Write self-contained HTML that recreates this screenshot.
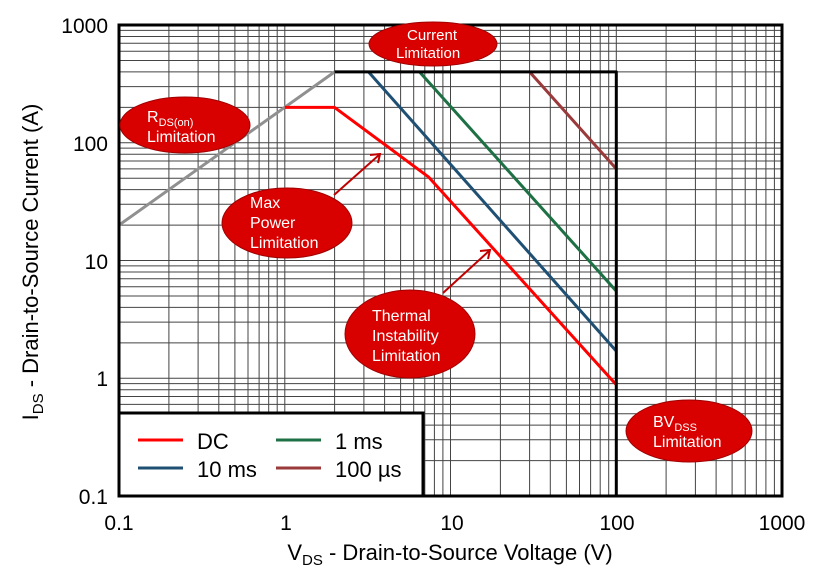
<!DOCTYPE html>
<html><head><meta charset="utf-8"><style>
html,body{margin:0;padding:0;background:#fff;}
svg{display:block;font-family:"Liberation Sans",Arial,sans-serif;}
</style></head><body>
<svg width="820" height="578" viewBox="0 0 820 578" xmlns="http://www.w3.org/2000/svg">
<g stroke="#444" stroke-width="1">
<path d="M119 25V496M168.9 25V496M198.1 25V496M218.8 25V496M234.9 25V496M248 25V496M259.1 25V496M268.7 25V496M277.2 25V496
M284.8 25V496M334.6 25V496M363.9 25V496M384.6 25V496M400.6 25V496M413.7 25V496M424.8 25V496M434.4 25V496M442.9 25V496
M450.5 25V496M500.4 25V496M529.6 25V496M550.3 25V496M566.4 25V496M579.5 25V496M590.6 25V496M600.2 25V496M608.7 25V496
M616.3 25V496M666.1 25V496M695.4 25V496M716.1 25V496M732.1 25V496M745.2 25V496M756.3 25V496M765.9 25V496M774.4 25V496
M119 460.6H782M119 439.8H782M119 425.1H782M119 413.7H782M119 404.4H782M119 396.5H782M119 389.7H782M119 383.6H782
M119 378.3H782M119 342.9H782M119 322.1H782M119 307.4H782M119 296H782M119 286.7H782M119 278.8H782M119 272H782M119 265.9H782
M119 260.5H782M119 225.1H782M119 204.3H782M119 189.6H782M119 178.2H782M119 168.9H782M119 161H782M119 154.2H782M119 148.1H782
M119 142.8H782M119 107.4H782M119 86.6H782M119 71.9H782M119 60.5H782M119 51.2H782M119 43.3H782M119 36.5H782M119 30.4H782"/>
</g>
<g fill="none" stroke-width="3" stroke-linejoin="round">
<polyline stroke="#909090" points="119,225.1 334.6,71.9"/>
<polyline stroke="#ff0000" points="284.8,107.4 334.6,107.4 428.8,177.2 616.3,384.8"/>
<polyline stroke="#1f5074" points="368.5,71.9 616.3,351.1"/>
<polyline stroke="#1e7045" points="419.5,71.9 616.3,291.1"/>
<polyline stroke="#9a3a3a" points="529.6,71.9 616.3,168.9"/>
<polyline stroke="#000" points="334.6,71.9 616.3,71.9 616.3,496"/>
</g>
<rect x="119" y="25" width="663" height="471" fill="none" stroke="#000" stroke-width="3"/>
<rect x="119" y="413" width="304" height="83" fill="#fff" stroke="#000" stroke-width="3"/>
<line x1="138" y1="440" x2="183" y2="440" stroke="#ff0000" stroke-width="3"/>
<text x="197" y="449" font-size="22">DC</text>
<line x1="276" y1="440" x2="321" y2="440" stroke="#1e7045" stroke-width="3"/>
<text x="335" y="449" font-size="22">1 ms</text>
<line x1="138" y1="468" x2="183" y2="468" stroke="#1f5074" stroke-width="3"/>
<text x="197" y="477" font-size="22">10 ms</text>
<line x1="276" y1="468" x2="321" y2="468" stroke="#9a3a3a" stroke-width="3"/>
<text x="335" y="477" font-size="22">100 µs</text>
<g font-size="21" text-anchor="end">
<text x="108" y="33">1000</text><text x="108" y="151">100</text><text x="108" y="269">10</text><text x="108" y="386">1</text><text x="108" y="504">0.1</text>
</g>
<g font-size="21" text-anchor="middle">
<text x="119" y="530">0.1</text><text x="286" y="530">1</text><text x="452" y="530">10</text><text x="617" y="530">100</text><text x="782" y="530">1000</text>
</g>
<text x="450" y="560" font-size="22" text-anchor="middle">V<tspan font-size="15" dy="5">DS</tspan><tspan dy="-5"> - Drain-to-Source Voltage (V)</tspan></text>
<text transform="translate(38,262) rotate(-90)" font-size="22" text-anchor="middle">I<tspan font-size="15" dy="5">DS</tspan><tspan dy="-5"> - Drain-to-Source Current (A)</tspan></text>
<g fill="#d90000" stroke="#a00000" stroke-width="1">
<ellipse cx="433" cy="44" rx="64" ry="22"/>
<ellipse cx="185" cy="125" rx="65" ry="28"/>
<ellipse cx="287" cy="223" rx="65" ry="35"/>
<ellipse cx="410" cy="334" rx="65" ry="44"/>
<ellipse cx="689" cy="431" rx="63" ry="31"/>
</g>
<g stroke="#c00000" stroke-width="2" fill="none">
<line x1="334" y1="195" x2="379" y2="155"/><polyline points="370,155 380,154 378,163"/>
<line x1="443" y1="293" x2="489" y2="251"/><polyline points="480,251 490,250 488,259"/>
</g>
<g fill="#fff" font-size="16">
<text x="407" y="40" font-size="15">Current</text><text x="396" y="58" font-size="15">Limitation</text>
<text x="147" y="122">R<tspan font-size="11" dy="4">DS(on)</tspan></text><text x="147" y="142">Limitation</text>
<text x="250" y="208">Max</text><text x="250" y="228">Power</text><text x="250" y="248">Limitation</text>
<text x="372" y="321">Thermal</text><text x="372" y="341">Instability</text><text x="372" y="361">Limitation</text>
<text x="653" y="427">BV<tspan font-size="11" dy="4">DSS</tspan></text><text x="653" y="447">Limitation</text>
</g>
</svg>
</body></html>
